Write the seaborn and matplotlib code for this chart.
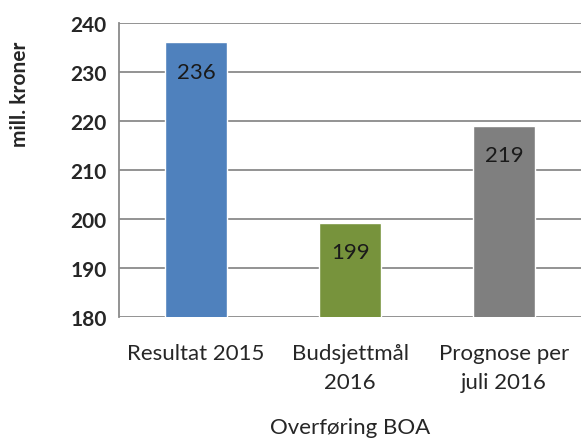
import matplotlib
matplotlib.use("Agg")
import pandas as pd
import matplotlib.pyplot as plt
import seaborn as sns

# data
categories = ["Resultat 2015", "Budsjettmål\n2016", "Prognose per\njuli 2016"]
values = [236.1, 199.2, 219.0]
labels = ["236", "199", "219"]
colors = ["#4F81BD", "#77933C", "#7F7F7F"]
yticks = [180, 190, 200, 210, 220, 230, 240]

df = pd.DataFrame({"kategori": categories, "verdi": values})

sns.set_style("white")
plt.rcParams["font.family"] = ["Lato", "DejaVu Sans"]

fig = plt.figure(figsize=(5.81, 4.39), dpi=100)
ax = fig.add_axes([0.205, 0.276, 0.795, 0.669])

sns.barplot(data=df, x="kategori", y="verdi", hue="kategori", palette=colors,
            width=0.4, legend=False, ax=ax, zorder=3, saturation=1)

ax.set_ylim(180, 240)
ax.set_yticks(yticks)
ax.yaxis.grid(True, color="#8a8a8a", linewidth=1.3, zorder=0)
ax.set_axisbelow(True)

for s in ["top", "right", "bottom"]:
    ax.spines[s].set_visible(False)
ax.spines["left"].set_color("#8a8a8a")
ax.spines["left"].set_linewidth(1.3)

ax.tick_params(axis="y", length=5, width=1.3, color="#8a8a8a", labelsize=15, pad=4)
ax.tick_params(axis="x", length=0, labelsize=16, pad=19)
for t in ax.get_yticklabels():
    t.set_fontweight("bold")
for t in ax.get_xticklabels():
    t.set_linespacing(1.55)

# value labels inside bars
for i, (v, lab) in enumerate(zip(values, labels)):
    ax.text(i, v - 6.0, lab, ha="center", va="center", fontsize=16, color="#1a1a1a", zorder=4)

ax.set_ylabel("mill. kroner", fontsize=15, fontweight="bold")
ax.yaxis.set_label_coords(-0.214, 0.76)
ax.set_xlabel("Overføring BOA", fontsize=16)
ax.xaxis.set_label_coords(0.5, -0.374)
ax.xaxis.label.set_va("center")
ax.yaxis.label.set_va("center")

plt.savefig("out.png", dpi=100)
